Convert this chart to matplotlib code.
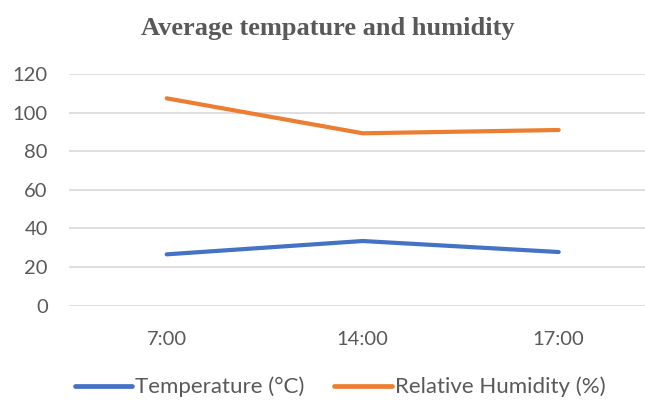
import matplotlib
matplotlib.use("Agg")
import matplotlib.pyplot as plt
from matplotlib.lines import Line2D

categories = ["7:00", "14:00", "17:00"]
temperature = [26.6, 33.5, 27.8]
humidity = [107.4, 89.3, 91.0]
yticks = [0, 20, 40, 60, 80, 100, 120]

W, H = 645, 400
fig = plt.figure(figsize=(W/100, H/100), dpi=100)
left_px, right_px, top_px, bot_px = 68.7, 645, 74, 305.7
ax = fig.add_axes([left_px/W, 1-bot_px/H, (right_px-left_px)/W, (bot_px-top_px)/H])

x = list(range(len(categories)))
ax.plot(x, temperature, color="#4472C4", lw=3.0, solid_capstyle="round", label="Temperature (°C)", zorder=3)
ax.plot(x, humidity, color="#ED7D31", lw=3.0, solid_capstyle="round", label="Relative Humidity (%)", zorder=3)

ax.set_ylim(0, 120)
ax.set_xlim(-0.5, (right_px-166.7)/196 - 0.0)
ax.set_yticks(yticks)
ax.set_xticks(x)
ax.set_xticklabels(categories)
ax.grid(axis="y", color="#d9d9d9", lw=1.2)
ax.set_axisbelow(True)
for s in ax.spines.values():
    s.set_visible(False)
ax.tick_params(length=0, labelsize=14.5, colors="#595959", labelfontfamily="Lato")
ax.tick_params(axis="y", pad=15)
ax.tick_params(axis="x", pad=18)

fig.text(328/W, 1-28.5/H, "Average tempature and humidity", ha="center", va="center",
         fontsize=19, fontweight="bold", family="Liberation Serif", color="#595959")

handles = [Line2D([0], [0], color="#4472C4", lw=3.4, solid_capstyle="round"),
           Line2D([0], [0], color="#ED7D31", lw=3.4, solid_capstyle="round")]
leg = fig.legend(handles, ["Temperature (°C)", "Relative Humidity (%)"], loc="center",
                 bbox_to_anchor=(340/W, 1-387/H), ncol=2, frameon=False,
                 prop={"family": "Lato", "size": 16}, handlelength=2.6, handletextpad=0.12,
                 columnspacing=1.35, labelcolor="#595959")
fig.savefig("out.png", dpi=100)
